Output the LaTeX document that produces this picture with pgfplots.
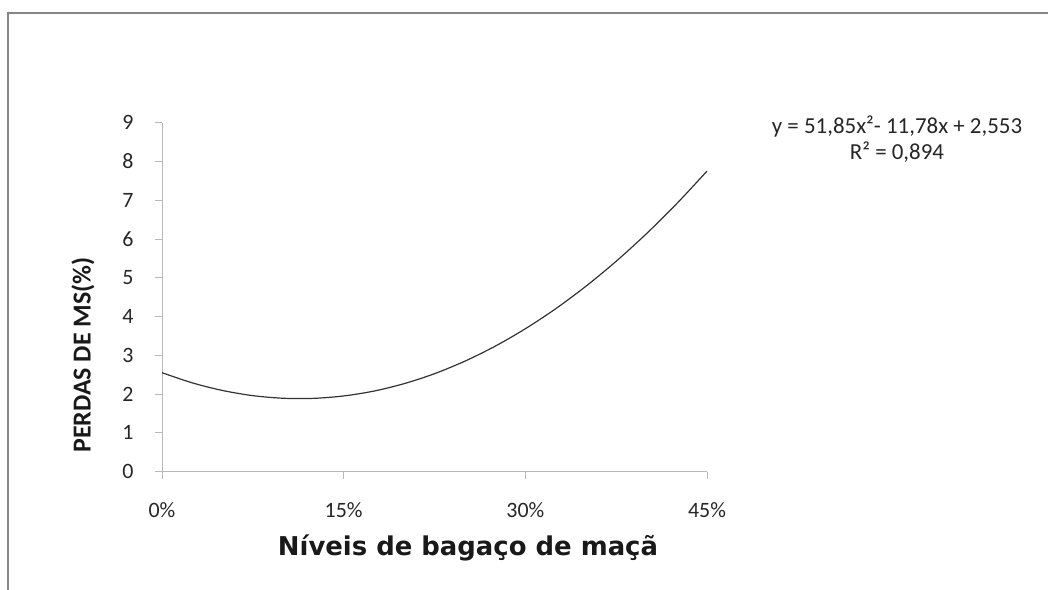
\documentclass[border=0pt]{standalone}
\usepackage{pgfplots}
\pgfplotsset{compat=1.18}
\usepackage{fontspec}
\setmainfont{Carlito}
\newfontfamily\xlabfont{DejaVu Sans}
\begin{document}
\begin{tikzpicture}[x=1bp,y=1bp]
\path[use as bounding box] (0,0) rectangle (1048,590);
\draw[line width=2bp, color=black!48] (8,0) -- (8,577) -- (1048,577);
\begin{axis}[
  at={(162bp,118.3bp)}, anchor=south west,
  width=545bp, height=349bp, scale only axis,
  xmin=0, xmax=0.45, ymin=0, ymax=9,
  axis x line*=bottom, axis y line*=left,
  axis line style={black!28, line width=1bp, -},
  tick style={black!28, line width=1bp},
  tick align=outside, major tick length=7bp,
  xtick={0,0.15,0.3,0.45}, xticklabels={0\%,15\%,30\%,45\%},
  ytick={0,1,...,9},
  /pgf/number format/assume math mode=true,
  ticklabel style={font=\fontsize{22}{22}\selectfont, text=black!85},
  xticklabel style={yshift=-20bp},
  yticklabel style={xshift=-18bp},
  clip=false,
]
\addplot[smooth, black!80, line width=1.2bp] coordinates {
(0,2.553) (0.025,2.291) (0.05,2.094) (0.075,1.961) (0.1,1.894) (0.125,1.891)
(0.15,1.953) (0.175,2.079) (0.2,2.271) (0.225,2.527) (0.25,2.849) (0.275,3.235)
(0.3,3.686) (0.325,4.201) (0.35,4.782) (0.375,5.427) (0.4,6.137) (0.425,6.912) (0.45,7.752)
};
\end{axis}
\node[font=\xlabfont\bfseries\fontsize{26}{26}\selectfont, text=black!90] at (468,42) {Níveis de bagaço de maçã};
\node[font=\bfseries\fontsize{26}{26}\selectfont, rotate=90, text=black!90] at (83,235) {PERDAS DE MS(\%)};
\node[font=\fontsize{23}{26}\selectfont, align=center, text=black!85, anchor=north] at (897,478) {y = 51,85x²- 11,78x + 2,553\\R² = 0,894};
\end{tikzpicture}
\end{document}
